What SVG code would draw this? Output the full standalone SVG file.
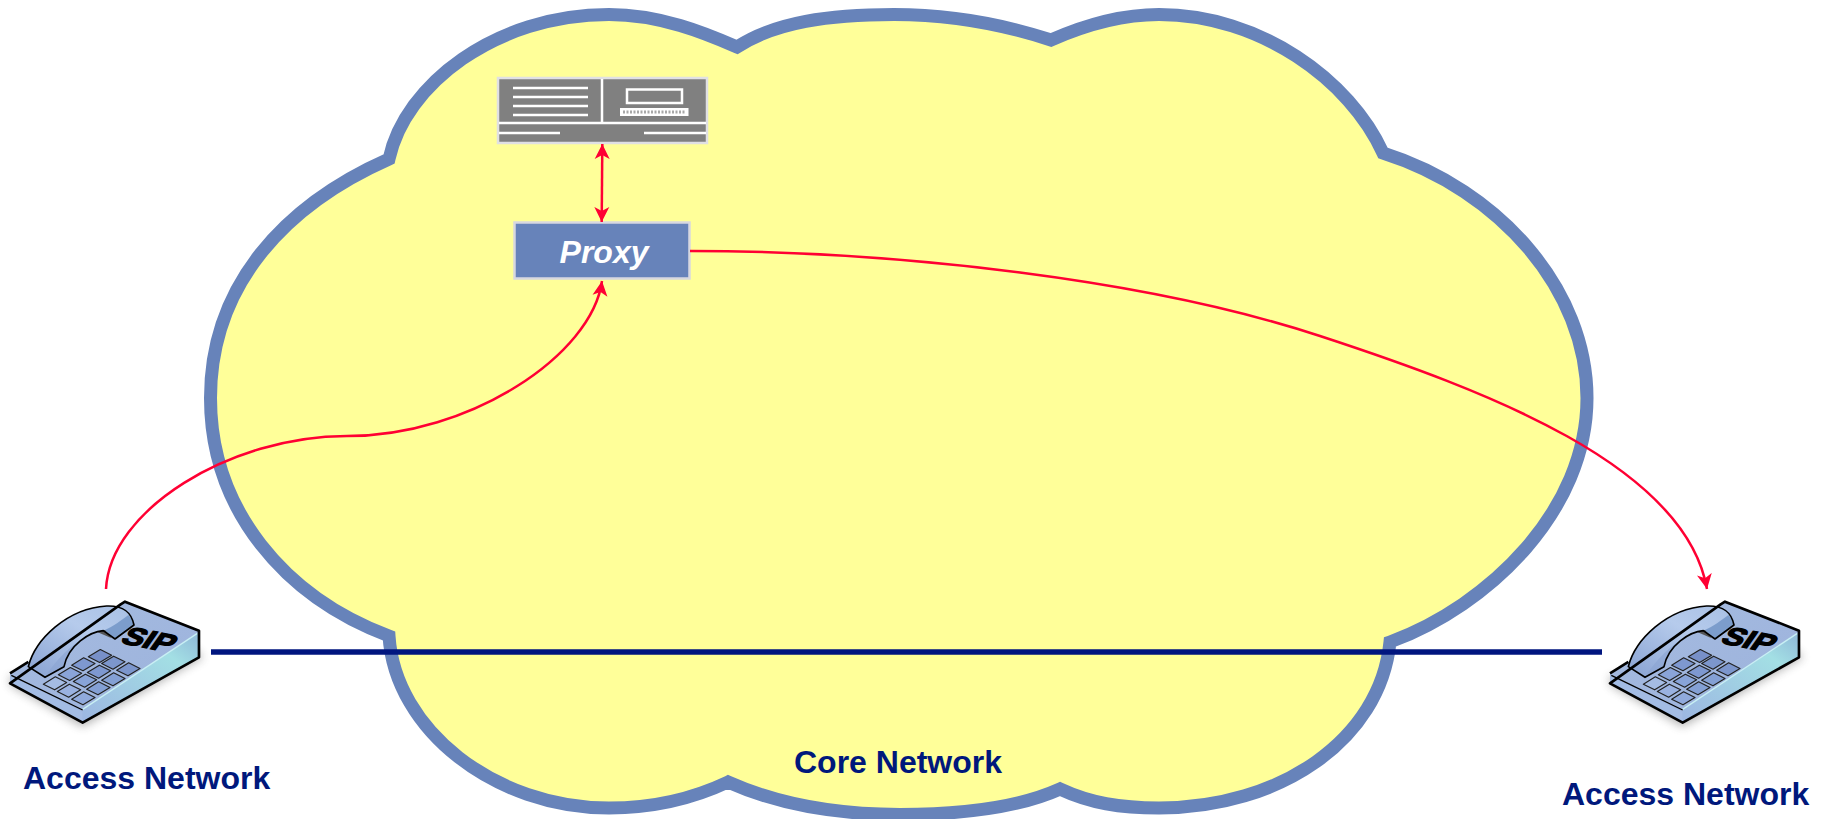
<svg xmlns="http://www.w3.org/2000/svg" width="1821" height="819" viewBox="0 0 1821 819">
<style>
.lbl{font-family:"Liberation Sans",Arial,sans-serif;font-weight:700;font-size:32px;fill:#00187c}
.wl{stroke:#fff;stroke-width:2.5;fill:none}
.conn{stroke:#ff0033;stroke-width:2.5;fill:none}
</style>
<defs>
<marker id="ah" viewBox="0 0 16 16" refX="15" refY="8" markerWidth="16" markerHeight="16" markerUnits="userSpaceOnUse" orient="auto-start-reverse"><path d="M0 0.5L15 8L0 15.500L4 8Z" fill="#ff0033"/></marker>
<linearGradient id="top" x1="0" y1="0" x2="1" y2="1"><stop offset="0" stop-color="#a5bbe0"/><stop offset="1" stop-color="#9cb2dc"/></linearGradient>
<linearGradient id="hs" x1="0" y1="1" x2="1" y2="0"><stop offset="0" stop-color="#88a2d2"/><stop offset=".6" stop-color="#b6cbec"/><stop offset="1" stop-color="#a8c0e4"/></linearGradient>
<linearGradient id="front" x1="0" y1="1" x2="1" y2="0"><stop offset="0" stop-color="#9cb6e2"/><stop offset=".75" stop-color="#a3dfe4"/><stop offset="1" stop-color="#8fb8d8"/></linearGradient>
<filter id="blur" x="-20%" y="-20%" width="140%" height="140%"><feGaussianBlur stdDeviation="14"/></filter>
<path id="cell" d="M1 -19.500L35 -2.500L-1 19.500L-35 2.500Z" stroke="#222" stroke-width="3.500" stroke-linejoin="round"/>
<g id="phone">
<path d="M30 345L248 470L610 262L560 220L30 320Z" fill="#555" opacity=".45" filter="url(#blur)"/>
<path d="M30 310L375 95L597 182L597 262L248 458L30 340Z" fill="url(#top)"/>
<path d="M30 340L30 318L248 425L248 458Z" fill="#a3bce4"/>
<path d="M248 420L594 190L597 262L248 458Z" fill="url(#front)"/>
<path d="M248 418L592 190" stroke="#c8f0f4" stroke-width="4" fill="none"/>
<path d="M34 316L248 420" stroke="#000" stroke-width="4" fill="none"/>
<path d="M85 290C105 210 200 115 320 108C375 106 395 130 402 165L345 207L310 182C270 185 205 225 192 290L135 322Z" fill="url(#hs)"/>
<path d="M310 182C340 170 365 150 385 135C395 145 400 155 402 165L345 207Z" fill="#7c9dcc"/>
<path d="M190 292C205 225 270 185 310 182L290 186C235 205 185 250 140 312Z" fill="#8aa3d2" opacity=".6"/>
<path d="M290 185L315 180L335 205Z" fill="#555"/>
<path d="M85 290C105 210 200 115 320 108C375 106 395 130 402 165L345 207L310 182C270 185 205 225 192 290L135 322Z" fill="none" stroke="#000" stroke-width="5" stroke-linejoin="round"/>
<use href="#cell" x="300" y="258" fill="#7890c8"/><use href="#cell" x="340" y="278" fill="#7c96cc"/><use href="#cell" x="385" y="298" fill="#7c96cc"/>
<use href="#cell" x="250" y="283" fill="#7e98d0"/><use href="#cell" x="297" y="305" fill="#7e98d0"/><use href="#cell" x="340" y="328" fill="#84a0d4"/>
<use href="#cell" x="210" y="312" fill="#8aa4d8"/><use href="#cell" x="255" y="332" fill="#88a4d8"/><use href="#cell" x="295" y="355" fill="#84a0d4"/>
<use href="#cell" x="165" y="340" fill="#a4bce4"/><use href="#cell" x="207" y="362" fill="#9ab2e0"/><use href="#cell" x="250" y="385" fill="#90aadc"/>
<text transform="matrix(.93 .186 -.49 .7 358 218)" font-family="'Liberation Sans',Arial,sans-serif" font-weight="700" font-size="100" fill="#000" stroke="#000" stroke-width="5">SIP</text>
<path d="M30 310L85 276M362 103L375 95L597 182L597 262L248 458L30 340Z" fill="none" stroke="#000" stroke-width="8" stroke-linejoin="round"/>
</g>
</defs>
<rect width="1821" height="819" fill="#fff"/>
<g id="cloud">
<path d="M389 159C405 85 495 14.500 609 14.500C660 14.500 705 33 737 47C775 22 830 14.500 894 14.500C950 14.500 1005 25 1051 40C1085 25 1120 14.500 1159 14.500C1260 14.500 1350 80 1383 153C1500 190 1587 290 1587 398C1587 510 1490 605 1390 642C1380 740 1280 808 1159 808C1120 808 1090 803 1060 789C1020 807 965 814.500 900 814.500C835 814.500 775 803 728 782C690 800 650 808 609 808C495 808 395 730 389 636C285 597 210.500 510 210.500 398C210.500 285 285 205 389 159Z" fill="#ffff99" stroke="#6783ba" stroke-width="13" stroke-linejoin="miter"/>
</g>
<g id="server">
<rect x="498" y="78" width="209" height="65" fill="#808080" stroke="#e0e0e4" stroke-width="2.500"/>
<path class="wl" d="M513 88H588M513 97H588M513 106H588M513 115H588M602 79V122M499 123H706M499 133H560M644 133H706"/>
<path d="M627 89.500H682V103H627Z" fill="none" stroke="#fff" stroke-width="2.500"/>
<rect x="620" y="108" width="68.500" height="8" fill="#fff"/>
<path d="M623 112H686" stroke="#a8a8a8" stroke-width="3" stroke-dasharray="2 1.500"/>
</g>
<g id="proxy">
<rect x="514.500" y="222.500" width="175" height="56" fill="#6783ba" stroke="#d8d8e0" stroke-width="2.500"/>
<text x="604" y="263" text-anchor="middle" font-family="'Liberation Sans',Arial,sans-serif" font-weight="700" font-style="italic" font-size="32" fill="#fff">Proxy</text>
</g>
<g id="connectors">
<path class="conn" d="M602.300 144L601.700 222" marker-start="url(#ah)" marker-end="url(#ah)"/>
<path class="conn" d="M106 589C110 510 230 436 347 436C470 436 592 355 602 281" marker-end="url(#ah)"/>
<path class="conn" d="M690 251C900 251 1150 280 1320 336C1485 390 1685 465 1707 589" marker-end="url(#ah)"/>
<path d="M211 652H1602" stroke="#00157f" stroke-width="5.500" fill="none"/>
</g>
<g id="phone-left"><use href="#phone" transform="translate(0,570) scale(.3333)"/></g>
<g id="phone-right"><use href="#phone" transform="translate(1600,570) scale(.3333)"/></g>
<g id="labels">
<text class="lbl" x="23" y="789">Access Network</text>
<text class="lbl" x="794" y="773">Core Network</text>
<text class="lbl" x="1562" y="805">Access Network</text>
</g>
</svg>
